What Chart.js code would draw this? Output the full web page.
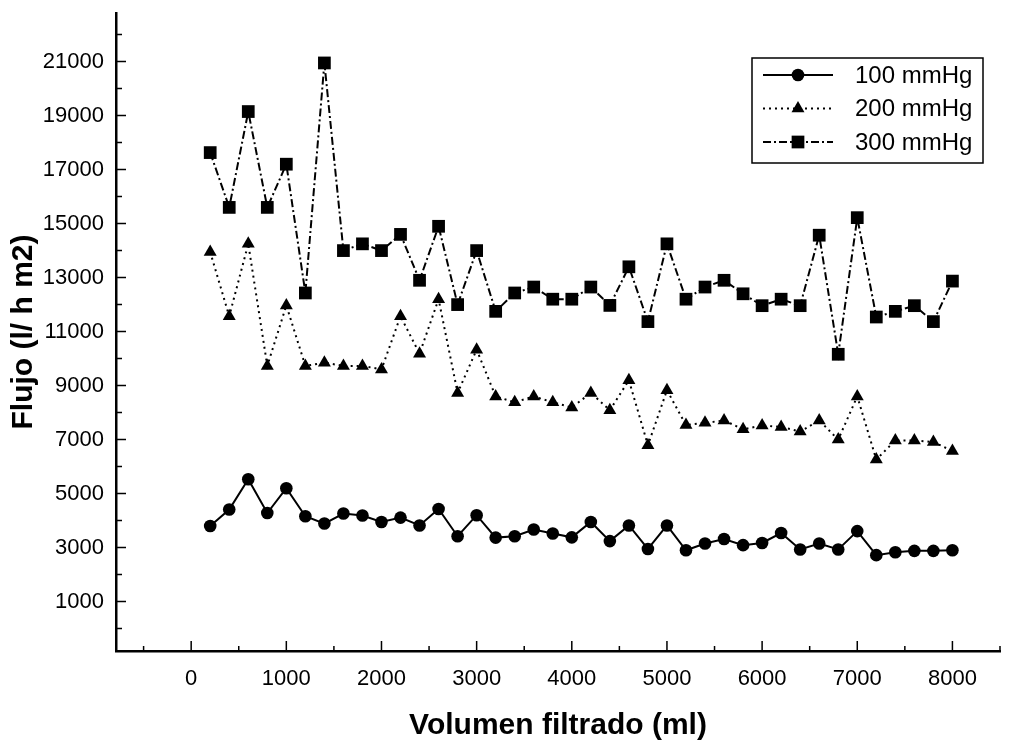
<!DOCTYPE html>
<html>
<head>
<meta charset="utf-8">
<script src="https://cdn.jsdelivr.net/npm/chart.js@4/dist/chart.umd.min.js"></script>
<style>
  body { margin: 0; background: #fff; }
  #wrap { width: 1018px; height: 746px; }
</style>
</head>
<body>
<div id="wrap"><canvas id="flujoChart"></canvas></div>
<script>
// Volumen filtrado (ml)
const volumen = [200, 400, 600, 800, 1000, 1200, 1400, 1600, 1800, 2000,
  2200, 2400, 2600, 2800, 3000, 3200, 3400, 3600, 3800, 4000,
  4200, 4400, 4600, 4800, 5000, 5200, 5400, 5600, 5800, 6000,
  6200, 6400, 6600, 6800, 7000, 7200, 7400, 7600, 7800, 8000];

// Flujo (l/ h m2)
const flujo100 = [3800, 4410, 5530, 4280, 5200, 4160, 3890, 4260, 4190, 3950,
  4110, 3820, 4430, 3420, 4200, 3370, 3420, 3670, 3520, 3380,
  3950, 3240, 3820, 2950, 3820, 2900, 3150, 3320, 3090, 3170,
  3540, 2930, 3150, 2930, 3610, 2720, 2830, 2880, 2880, 2900];
const flujo200 = [13950, 11570, 14250, 9730, 11970, 9730, 9850, 9730, 9730, 9600,
  11570, 10180, 12200, 8730, 10330, 8600, 8380, 8600, 8380, 8190,
  8730, 8090, 9200, 6790, 8830, 7540, 7620, 7710, 7380, 7520,
  7470, 7300, 7710, 7000, 8600, 6260, 6970, 6970, 6910, 6580];
const flujo300 = [17630, 15600, 19150, 15600, 17200, 12430, 20950, 14000, 14250, 14000,
  14600, 12900, 14900, 12000, 14000, 11750, 12430, 12650, 12200, 12200,
  12650, 11970, 13400, 11370, 14250, 12200, 12650, 12900, 12400, 11960,
  12200, 11960, 14570, 10160, 15220, 11540, 11750, 11960, 11370, 12870];

const seriesNames = ['100 mmHg', '200 mmHg', '300 mmHg'];

// ticks: marcas cada 500 en x, cada 1000 en y
const xTicks = [-500, 0, 500, 1000, 1500, 2000, 2500, 3000, 3500, 4000,
  4500, 5000, 5500, 6000, 6500, 7000, 7500, 8000, 8500];
const yTicks = [0, 1000, 2000, 3000, 4000, 5000, 6000, 7000, 8000, 9000, 10000,
  11000, 12000, 13000, 14000, 15000, 16000, 17000, 18000, 19000, 20000, 21000, 22000];

const FONT = "'Liberation Sans', Arial, sans-serif";

function pares(vals) {
  return volumen.map((v, i) => ({ x: v, y: vals[i] }));
}

// marcas de eje hacia dentro (largas en las etiquetadas)
const tickMarks = {
  id: 'tickMarks',
  beforeDatasetsDraw(chart) {
    const { ctx, chartArea, scales: { x, y } } = chart;
    ctx.save();
    ctx.strokeStyle = '#000';
    ctx.lineWidth = 1.5;
    ctx.beginPath();
    x.ticks.forEach(t => {
      const px = x.getPixelForValue(t.value);
      const len = t.value % 1000 === 0 ? 10 : 5;
      ctx.moveTo(px, chartArea.bottom);
      ctx.lineTo(px, chartArea.bottom - len);
    });
    y.ticks.forEach(t => {
      const py = y.getPixelForValue(t.value);
      const len = t.value % 2000 === 1000 ? 10 : 6;
      ctx.moveTo(chartArea.left, py);
      ctx.lineTo(chartArea.left + len, py);
    });
    ctx.stroke();
    ctx.restore();
  }
};

function drawMarker(ctx, style, cx, cy, r) {
  ctx.beginPath();
  if (style === 'circle') {
    ctx.arc(cx, cy, r, 0, Math.PI * 2);
  } else if (style === 'triangle') {
    for (let k = 0; k < 3; k++) {
      const a = k * 2 * Math.PI / 3;
      const px = cx + Math.sin(a) * r, py = cy - Math.cos(a) * r;
      if (k === 0) ctx.moveTo(px, py); else ctx.lineTo(px, py);
    }
    ctx.closePath();
  } else {
    const s = r * Math.SQRT1_2;
    ctx.rect(cx - s, cy - s, 2 * s, 2 * s);
  }
  ctx.fill();
}

// leyenda en caja, arriba a la derecha
const boxLegend = {
  id: 'boxLegend',
  afterDraw(chart) {
    const { ctx, chartArea } = chart;
    const bx = chartArea.right - 248, by = chartArea.top + 45;
    const bw = 231, bh = 105;
    ctx.save();
    ctx.strokeStyle = '#000';
    ctx.lineWidth = 1.5;
    ctx.strokeRect(bx, by, bw, bh);
    chart.data.datasets.forEach((ds, i) => {
      const ry = by + 17 + i * 33.5;
      ctx.strokeStyle = '#000';
      ctx.lineWidth = ds.borderWidth;
      ctx.setLineDash(ds.borderDash || []);
      ctx.beginPath();
      ctx.moveTo(bx + 11, ry);
      ctx.lineTo(bx + 81, ry);
      ctx.stroke();
      ctx.setLineDash([]);
      ctx.fillStyle = '#000';
      drawMarker(ctx, ds.pointStyle, bx + 46, ry, ds.pointRadius);
      ctx.font = '24px ' + FONT;
      ctx.textBaseline = 'middle';
      ctx.textAlign = 'left';
      ctx.fillText(ds.label, bx + 103, ry + 1);
    });
    ctx.restore();
  }
};

const ctx = document.getElementById('flujoChart').getContext('2d');
const flujoChart = new Chart(ctx, {
  type: 'line',
  data: {
    datasets: [{
      label: seriesNames[0],
      data: pares(flujo100),
      borderColor: '#000',
      backgroundColor: '#000',
      borderWidth: 2,
      pointStyle: 'circle',
      pointRadius: 6.3,
      pointBorderWidth: 0
    }, {
      label: seriesNames[1],
      data: pares(flujo200),
      borderColor: '#000',
      backgroundColor: '#000',
      borderWidth: 2,
      borderDash: [2, 4],
      pointStyle: 'triangle',
      pointRadius: 7.5,
      pointBorderWidth: 0
    }, {
      label: seriesNames[2],
      data: pares(flujo300),
      borderColor: '#000',
      backgroundColor: '#000',
      borderWidth: 2,
      borderDash: [8, 3, 2, 3],
      pointStyle: 'rect',
      pointRadius: 9,
      pointBorderWidth: 0
    }]
  },
  options: {
    responsive: true,
    maintainAspectRatio: false,
    animation: false,
    layout: { padding: { left: 4, right: 18, top: 13, bottom: 0 } },
    plugins: {
      legend: { display: false },
      tooltip: { enabled: false }
    },
    scales: {
      x: {
        type: 'linear',
        min: -790,
        max: 8500,
        afterBuildTicks: s => { s.ticks = xTicks.map(v => ({ value: v })); },
        afterFit: s => { s.height = 95; s.paddingLeft = 0; s.paddingRight = 0; },
        grid: { display: false, drawTicks: false, tickLength: 0 },
        border: { display: true, color: '#000', width: 2.5 },
        ticks: {
          autoSkip: false,
          maxRotation: 0,
          padding: 15,
          color: '#000',
          font: { family: FONT, size: 22 },
          callback: v => (v % 1000 === 0 && v >= 0 ? String(v) : '')
        },
        title: {
          display: true,
          text: 'Volumen filtrado (ml)',
          color: '#000',
          font: { family: FONT, size: 30, weight: 'bold' },
          padding: { top: 16, bottom: 2 }
        }
      },
      y: {
        min: -830,
        max: 22800,
        afterBuildTicks: s => { s.ticks = yTicks.map(v => ({ value: v })); },
        afterFit: s => { s.width = 112; s.paddingTop = 0; s.paddingBottom = 0; },
        grid: { display: false, drawTicks: false, tickLength: 0 },
        border: { display: true, color: '#000', width: 2.5 },
        ticks: {
          autoSkip: false,
          padding: 12,
          color: '#000',
          font: { family: FONT, size: 22 },
          callback: v => (v % 2000 === 1000 ? String(v) : '')
        },
        title: {
          display: true,
          text: 'Flujo (l/ h m2)',
          color: '#000',
          font: { family: FONT, size: 30, weight: 'bold' },
          padding: { top: 2, bottom: 1 }
        }
      }
    }
  },
  plugins: [tickMarks, boxLegend]
});
</script>
</body>
</html>
